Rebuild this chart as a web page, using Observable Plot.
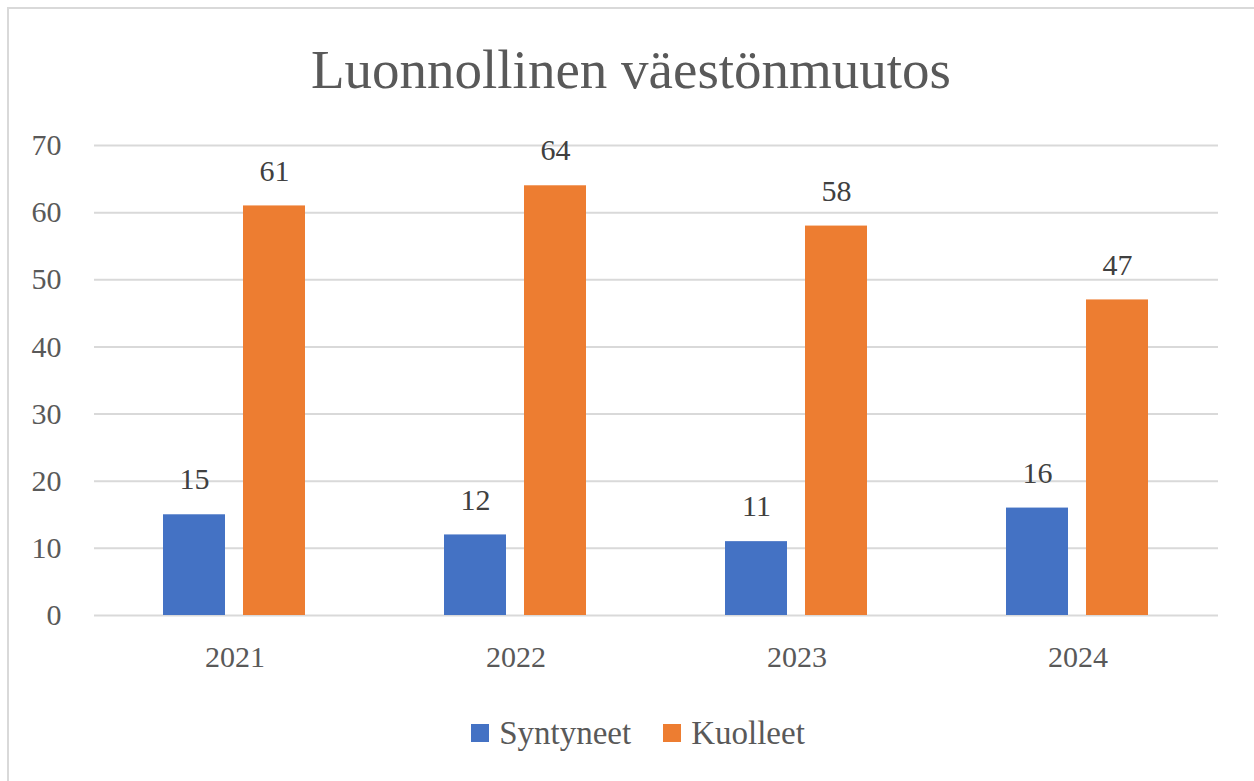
<!DOCTYPE html>
<html>
<head>
<meta charset="utf-8">
<script src="https://cdn.jsdelivr.net/npm/d3@7"></script>
<script src="https://cdn.jsdelivr.net/npm/@observablehq/plot@0.6"></script>
<style>
  html, body { margin: 0; padding: 0; background: #fff; }
  #wrap { position: relative; width: 1254px; height: 781px; overflow: hidden; font-family: "Liberation Serif", serif; color: #595959; }
  #frame { position: absolute; left: 7px; top: 7px; width: 1400px; height: 900px; border-top: 2px solid #d9d9d9; border-left: 2px solid #d9d9d9; box-sizing: border-box; }
  #chart { position: absolute; left: 0; top: 0; }
  #title { position: absolute; left: 0; width: 1262px; top: 44px; text-align: center; font-size: 55px; line-height: 52px; }
  #legend { position: absolute; left: 0; width: 1276px; top: 713px; height: 40px; display: flex; justify-content: center; align-items: center; font-size: 33px; }
  .item { display: flex; align-items: center; margin: 0 16px; }
  .sw { width: 18px; height: 18px; margin-right: 10px; }
</style>
</head>
<body>
<div id="wrap">
  <div id="frame"></div>
  <div id="chart"></div>
  <div id="title">Luonnollinen väestönmuutos</div>
  <div id="legend"></div>
</div>
<script>
const years = ["2021", "2022", "2023", "2024"];
const series = ["Syntyneet", "Kuolleet"];
const syntyneet = [15, 12, 11, 16];
const kuolleet = [61, 64, 58, 47];
const colors = ["#4472C4", "#ED7D31"];
const yTicks = [0, 10, 20, 30, 40, 50, 60, 70];

const data = [];
years.forEach((yr, i) => {
  data.push({year: yr, series: series[0], value: syntyneet[i]});
  data.push({year: yr, series: series[1], value: kuolleet[i]});
});

const chart = Plot.plot({
  width: 1254,
  height: 781,
  marginLeft: 93,
  marginRight: 35,
  marginTop: 145,
  marginBottom: 166,
  style: {fontFamily: "Liberation Serif", fontSize: "30px", color: "#595959", background: "transparent"},
  fx: {domain: years, padding: 0, label: null, axis: null},
  x: {domain: series, paddingInner: 0.2236, paddingOuter: 0.86, axis: null},
  y: {domain: [0, 70], label: null},
  color: {domain: series, range: colors},
  marks: [
    Plot.ruleY(yTicks, {stroke: "#d9d9d9", strokeWidth: 2}),
    Plot.barY(data, {fx: "year", x: "series", y: "value", fill: "series"}),
    Plot.text(data, {fx: "year", x: "series", y: "value", text: d => String(d.value), dy: -35, fill: "#404040", fontSize: 30}),
    Plot.axisY({ticks: yTicks, tickSize: 0, tickPadding: 33, label: null, fontSize: 30}),
    Plot.axisFx({anchor: "bottom", tickSize: 0, tickPadding: 30, label: null, fontSize: 30})
  ]
});
document.getElementById("chart").appendChild(chart);

const legend = document.getElementById("legend");
series.forEach((s, i) => {
  const item = document.createElement("div");
  item.className = "item";
  const sw = document.createElement("div");
  sw.className = "sw";
  sw.style.background = colors[i];
  const lab = document.createElement("span");
  lab.textContent = s;
  item.appendChild(sw);
  item.appendChild(lab);
  legend.appendChild(item);
});
</script>
</body>
</html>
